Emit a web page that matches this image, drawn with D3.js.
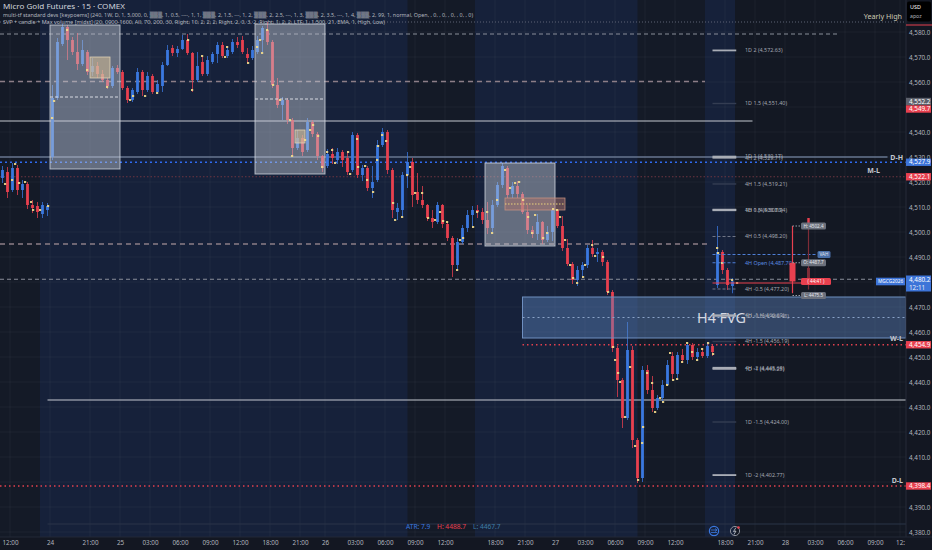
<!DOCTYPE html>
<html><head><meta charset="utf-8">
<script src="https://cdn.jsdelivr.net/npm/d3@7"></script>
<style>body{margin:0;background:#131722;overflow:hidden}svg{display:block}</style>
</head><body>
<svg id="c" width="932" height="550"></svg>
<script>
// ---------------- DATA ----------------
// 30-minute style candles [open, high, low, close]
const candles = [
[4521.6,4526.4,4519.6,4524.8],[4524.0,4526.0,4513.6,4516.0],[4516.8,4527.6,4516.0,4525.6],[4525.6,4526.8,4514.8,4516.8],
[4516.8,4520.8,4513.6,4519.2],[4519.2,4520.0,4509.2,4510.8],[4510.8,4512.8,4507.6,4509.6],[4510.4,4512.0,4505.6,4508.0],
[4507.2,4512.0,4505.6,4510.8],[4508.8,4511.6,4506.4,4510.4],[4530.0,4558.8,4528.8,4553.6],[4553.6,4577.6,4552.8,4576.0],
[4575.2,4583.2,4574.4,4582.0],[4582.0,4582.8,4568.8,4576.8],[4576.8,4578.0,4570.8,4572.0],[4572.0,4579.6,4564.8,4567.2],
[4567.2,4576.8,4566.4,4572.8],[4572.0,4572.8,4562.8,4564.0],[4564.0,4569.6,4562.4,4566.4],[4566.4,4568.0,4561.6,4563.2],
[4563.2,4564.8,4560.0,4560.8],[4560.8,4561.6,4557.2,4558.4],[4558.4,4566.4,4557.6,4565.6],[4565.6,4566.8,4563.2,4564.0],
[4564.0,4564.8,4556.8,4557.6],[4557.6,4558.4,4551.6,4552.8],[4552.8,4557.6,4552.0,4556.8],[4556.0,4565.6,4555.2,4564.0],
[4564.0,4564.8,4554.4,4556.8],[4556.8,4564.0,4556.0,4562.4],[4562.4,4563.2,4555.2,4556.0],[4556.0,4560.8,4555.2,4559.2],
[4558.4,4568.0,4556.0,4566.8],[4566.8,4574.8,4566.4,4572.8],[4573.6,4574.8,4570.4,4571.6],[4571.6,4574.4,4570.0,4573.2],
[4573.2,4578.8,4572.8,4576.8],[4576.8,4579.2,4570.8,4571.6],[4571.6,4572.0,4556.0,4560.8],[4560.8,4572.0,4560.0,4566.4],
[4568.0,4570.4,4562.4,4563.2],[4563.2,4570.4,4562.4,4568.8],[4568.0,4572.0,4567.2,4571.2],[4571.2,4576.0,4567.6,4574.8],
[4574.8,4576.0,4569.6,4570.4],[4570.4,4574.4,4569.6,4572.8],[4572.0,4577.2,4571.2,4576.0],[4576.0,4578.0,4573.6,4574.8],
[4576.8,4578.4,4571.2,4572.0],[4571.2,4573.6,4567.6,4569.6],[4569.6,4574.4,4568.8,4572.8],[4572.0,4578.4,4571.2,4576.8],
[4576.8,4582.4,4571.6,4581.6],[4580.8,4584.0,4574.8,4576.0],[4576.0,4576.8,4557.6,4558.8],[4558.8,4561.6,4549.6,4550.8],
[4550.8,4554.0,4544.8,4552.8],[4552.8,4553.6,4543.2,4544.8],[4544.8,4545.6,4530.4,4533.6],[4533.6,4540.8,4532.8,4537.6],
[4537.6,4538.8,4530.4,4532.0],[4532.8,4545.6,4532.0,4544.0],[4544.0,4544.8,4538.0,4539.2],[4539.2,4540.0,4528.8,4530.4],
[4530.4,4530.8,4524.0,4525.6],[4526.4,4533.2,4525.6,4531.2],[4531.2,4533.6,4527.2,4529.6],[4528.8,4533.6,4527.2,4532.0],
[4532.0,4532.8,4526.0,4528.8],[4529.6,4532.4,4522.8,4524.0],[4524.8,4540.0,4524.0,4538.8],[4538.8,4539.6,4521.6,4522.8],
[4522.8,4526.8,4520.4,4525.6],[4525.6,4526.4,4516.4,4517.6],[4517.6,4526.4,4513.6,4520.0],[4520.8,4536.8,4520.0,4534.8],
[4534.8,4541.6,4534.0,4540.0],[4540.0,4540.8,4523.2,4524.8],[4524.8,4525.6,4505.6,4508.8],[4508.0,4511.6,4504.8,4509.6],
[4508.8,4524.0,4506.0,4522.8],[4522.8,4532.0,4517.6,4528.0],[4528.0,4529.6,4510.0,4514.8],[4516.0,4523.6,4511.2,4512.8],
[4512.8,4518.4,4509.6,4510.8],[4510.8,4511.2,4504.4,4505.6],[4505.6,4508.8,4501.6,4504.0],[4504.0,4512.0,4503.2,4510.8],
[4510.8,4511.2,4501.6,4503.2],[4503.2,4504.0,4496.4,4497.6],[4497.6,4498.4,4482.0,4486.8],[4486.8,4497.6,4484.8,4496.0],
[4496.0,4502.8,4495.2,4501.6],[4501.6,4508.8,4500.0,4506.8],[4506.8,4510.4,4501.6,4508.8],[4508.8,4510.8,4505.6,4508.0],
[4508.0,4509.6,4503.2,4504.8],[4504.8,4512.0,4499.2,4501.6],[4501.6,4512.8,4499.2,4510.8],[4510.8,4520.0,4510.0,4518.8],
[4518.8,4527.6,4517.6,4526.4],[4525.6,4526.4,4513.6,4514.8],[4515.2,4520.0,4513.6,4518.4],[4518.4,4520.4,4513.6,4515.2],
[4515.2,4516.0,4507.2,4508.0],[4508.0,4510.8,4499.2,4500.8],[4500.8,4502.4,4497.6,4499.2],[4499.2,4507.2,4496.8,4504.0],
[4504.0,4504.4,4495.2,4496.8],[4496.8,4502.4,4496.0,4500.0],[4500.0,4509.6,4496.4,4508.8],[4508.8,4509.2,4501.6,4502.4],
[4502.4,4506.4,4492.4,4493.6],[4493.6,4497.2,4486.4,4487.2],[4487.2,4488.0,4479.2,4480.8],[4480.8,4486.4,4478.4,4484.8],
[4484.8,4488.0,4481.6,4486.8],[4486.8,4494.8,4485.6,4493.6],[4493.6,4496.8,4490.0,4491.2],[4491.2,4493.6,4488.0,4492.0],
[4492.0,4492.8,4486.4,4488.0],[4488.0,4488.8,4474.8,4476.0],[4476.0,4476.8,4452.0,4453.6],[4453.6,4454.4,4434.0,4440.8],
[4440.8,4441.6,4421.6,4425.6],[4425.6,4464.0,4424.8,4452.8],[4452.8,4454.4,4413.6,4416.8],[4416.8,4417.6,4399.6,4401.6],
[4401.6,4446.4,4400.0,4444.8],[4444.8,4446.8,4435.2,4436.8],[4436.8,4442.4,4428.0,4429.6],[4429.6,4434.8,4428.8,4433.6],
[4433.6,4440.8,4432.0,4438.8],[4438.8,4448.8,4438.4,4446.8],[4450.4,4452.0,4440.8,4443.2],[4443.2,4452.0,4440.8,4450.8],
[4450.8,4453.2,4447.6,4448.8],[4448.8,4456.0,4447.2,4454.8],[4454.8,4455.6,4448.8,4450.0],[4450.0,4453.6,4448.4,4452.0],
[4452.0,4453.6,4449.6,4450.4],[4450.4,4456.0,4449.6,4454.4],[4454.4,4455.2,4450.4,4452.0],[4478.8,4502.4,4477.6,4492.0],
[4492.0,4492.8,4483.2,4484.8],[4484.8,4485.6,4476.8,4478.8],[4478.4,4481.6,4475.5,4480.2]
];
// indicator markers [bar, price]
const dots = [
[2,4519.2],[4.8,4520.8],[6,4527.2],[7.6,4519.6],[10,4520],[12.4,4512],[13.2,4508.8],[16,4508.8],[19.2,4510.4],
[20.8,4545.6],[21.6,4552.4],[26.8,4580.8],[34.8,4564.8],[42.8,4558],[52,4552.8],[53.2,4554.4],[58,4554.4],[62.8,4555.6],
[75.2,4576.8],[76.8,4556.8],[80.8,4570.4],[90,4570],[90.8,4574],[99.2,4567.6],[102.8,4574],[104,4576.8],[104.8,4571.6],
[106.8,4580.8],[109.2,4558.8],[112,4552.8],[116,4544.8],[116.8,4530.4],[122,4536.8],[124,4540.8],[125.2,4542.8],
[127.2,4538.4],[128.8,4526],[130.8,4532],[132.8,4532.8],[134,4527.6],[139.2,4532],[140,4523.2],[142.8,4537.2],[143.2,4526],
[146,4526.4],[146.8,4520.8],[149.2,4516],[150.8,4528.8],[151.2,4534.4],[152.8,4538.8],[154.4,4536.4],[157.2,4511.6],
[158,4504.8],[160.8,4506],[162.8,4522.8],[164,4526],[166,4515.6],[168.8,4515.6],[171.2,4505.6],[174,4504.8],[176,4508],
[177.2,4504.4],[178.8,4504],[182.8,4484.8],[184,4496.8],[185.2,4497.6],[189.2,4502],[190.8,4508],[194.8,4508],[196.8,4499.6],
[198.8,4512.8],[202,4524.8],[204,4517.6],[206,4519.6],[207.6,4520],[209.2,4512.8],[211.2,4506],[212.8,4499.6],[214,4506.8],
[217.2,4497.6],[218.8,4499.6],[221.2,4509.2],[222.8,4508.8],[224,4506],[226,4496.8],[228,4486.8],[229.2,4481.6],[230.8,4479.6],
[233.2,4482],[234,4486.8],[236.8,4494.8],[238,4490.4],[241.2,4490],[243.2,4476],[245.2,4454],[246,4448.8],[247.2,4443.6],
[248,4440],[250,4426],[252,4446],[254,4414.4],[255.2,4400.8],[256.8,4415.6],[257.2,4422],[258.8,4443.6],[260.8,4439.6],
[262,4428],[264,4433.6],[265.2,4432],[266.8,4438.8],[268,4451.6],[269.2,4440.8],[270.8,4441.2],[272.8,4448],[274.8,4455.6],
[276.8,4452],[278.8,4448.8],[280.8,4453.2],[283.2,4455.6],[285.2,4451.2],[286.8,4493.6],[287.2,4491.6],[288.8,4487.6],
[292.8,4480.8],[294.8,4479.6]
];
const timeTicks = [4,20,36,48,60,72,84,96,108,120,130,142,154,166,178,198,210,222,234,246,258,270,290,302,314,326,338,350,360];
const timeLabels = ["12:00","24","21:00","25","03:00","06:00","09:00","12:00","18:00","21:00","26","03:00","06:00","09:00","12:00",
  "18:00","21:00","27","03:00","06:00","09:00","12:00","18:00","21:00","28","03:00","06:00","09:00","12:"];
const priceTicks = [4380,4390,4400,4410,4420,4430,4440,4450,4460,4470,4480,4490,4500,4510,4520,4530,4540,4550,4560,4570,4580];
// session shading [startBar, endBar]
const sessions = [[16,163],[190,255],[282,294]];
// key horizontal levels [price, startBar, endBar, kind]
const hLevels = [
  [4584.0,0,362.4,"dotGrey"],[4579.2,0,336,"dashGrey"],[4560.2,0,282,"dashPink"],[4544.4,0,301,"solidWhite"],
  [4530.0,0,355,"solidBlueGrey"],[4527.9,0,362.4,"dotBlue"],[4522.1,0,362.4,"dotDarkRed"],[4495.2,0,284,"dashPink"],
  [4481.1,0,350,"dashGrey"],[4454.9,209,362.4,"dotRed"],[4432.8,19,362.4,"solidWhite"],[4398.4,0,362.4,"dotRed"],
  [4383.2,19,362.4,"solidDim"]
];
const levelTags = [["D-H",4530.0],["M-L",4522.1],["W-L",4454.9],["D-L",4398.4]];
// volume-profile boxes [startBar, endBar, top, bottom]
const boxes = [[20,48,4582.8,4525.2],[102,130,4583.2,4523.2],[194,222,4527.6,4494.4]];
const boxInner = [[36,44,4570.0,4561.6],[118,122,4540.8,4535.6]];
const boxBand = [202,226,4513.6,4508.8];
const boxDash = [[20,48,4554.0],[102,130,4553.2]];
// FVG zone
const fvg = [209,362.4,4474.0,4457.6];
// std-dev levels
const levelNames = ["1D 2","1D 1.5","1D 1","4H 2","4H 1.5","1D 0.5","4H 1","4H 0.5","4H Open","4H -0.5","1D -0.5","4H -1","4H -1.5","1D -1","4H -2","1D -1.5","1D -2"];
const levelValues = [4572.63,4551.40,4530.17,4529.71,4519.21,4508.94,4508.70,4498.20,4487.70,4477.20,4466.48,4466.69,4456.19,4445.25,4445.69,4424.00,4402.77];
// higher timeframe projection
const htf = {o:4487.7,h:4502.4,l:4475.5,c:4480.2};
const htfPrev = {o:4485.6,h:4505.6,l:4477.0,c:4478.8};
const projLabels = [["H: 4502.4",4502.4,"grey"],["VAH",4491.0,"blue"],["O: 4487.7",4487.7,"grey"],["( 44:41 )",4480.2,"red"],["L: 4475.5",4474.6,"grey"]];
// price-axis markers
const axisMarks = [["4,552.2",4552.2,"grey"],["4,549.7",4549.2,"red"],["4,527.9",4527.9,"blue"],["4,522.1",4522.1,"red"],["4,454.9",4454.9,"red"],["4,398.4",4398.4,"red"]];
const lastPrice = 4480.2, lastTime = "12:11", symbol = "MGCG2026";
const atrTexts = [["ATR: 7.9","atr"],["H: 4488.7","hi"],["L: 4467.7","lo"]];
const legend = [
 "Micro Gold Futures · 15 · COMEX",
 "multi-tf standard devs [keypoems] (240, 1W, D, 1, 5,000, 0, ▒▒▒, 1, 0.5, ----, 1, 1, ▒▒▒, 2, 1.5, ---, 1, 2, ▒▒▒, 2, 2.5, ---, 1, 3, ▒▒▒, 2, 3.5, ---, 1, 4, ▒▒▒, 2, 99, 1, normal, Open, , 0, , 0, , 0, , 0, , 0)",
 "SVP + candle + Max volume [midst] (20, 0900-1600, All, 70, 200, 30, Right, 10, 2, 2, 2, Right, 2, 0, 3, 2, Right, 1, 2, 2, LTF, 1, 1,500, 21, EMA, 1, High, Low)"
];

// ---------------- RENDER ----------------
const W = 932, H = 550, AX = 906, BOT = 537;
const FONT = "'Noto Sans', 'DejaVu Sans', sans-serif";
const x = d3.scaleLinear().domain([0, 372.8]).range([0, 932]);
const y = d3.scaleLinear().domain([4380, 4580]).range([532, 32]);
const svg = d3.select("#c").style("font-family", FONT);
const BLUE = "#3a78e0", RED = "#e8404f";

svg.append("rect").attr("width", W).attr("height", H).attr("fill", "#141a27");
svg.append("rect").attr("x", x(294)).attr("width", AX - x(294)).attr("height", BOT).attr("fill", "#131823");
svg.selectAll(".sess").data(sessions).join("rect")
  .attr("x", d => x(d[0])).attr("width", d => x(d[1]) - x(d[0]))
  .attr("y", 0).attr("height", BOT).attr("fill", "#16213a");

// grid
const g = svg.append("g");
g.selectAll(".vg").data(timeTicks).join("line")
  .attr("x1", d => x(d)).attr("x2", d => x(d)).attr("y1", 0).attr("y2", BOT)
  .attr("stroke", "rgba(255,255,255,0.045)");
g.selectAll(".hg").data(priceTicks).join("line")
  .attr("x1", 0).attr("x2", AX).attr("y1", d => y(d)).attr("y2", d => y(d))
  .attr("stroke", "rgba(255,255,255,0.04)");

// horizontal levels
const lvlStyle = {
  dotGrey:{c:"#5c6274",w:1,d:"1,2"}, dashGrey:{c:"#8a8f9a",w:1,d:"4,3"}, dashPink:{c:"#8c7e87",w:1.5,d:"5,4"},
  solidWhite:{c:"#c3c7cf",w:1.2,d:null}, solidBlueGrey:{c:"#66758f",w:1.6,d:null}, dotBlue:{c:"#2f6af0",w:1.6,d:"2,3"},
  dotDarkRed:{c:"#6e3540",w:1.2,d:"1.5,2"}, dotRed:{c:"#e2404e",w:1.5,d:"1.5,3"}, solidDim:{c:"#2b3549",w:1,d:null}
};
svg.selectAll(".lvl").data(hLevels).join("line")
  .attr("x1", d => x(d[1])).attr("x2", d => x(d[2])).attr("y1", d => y(d[0])).attr("y2", d => y(d[0]))
  .attr("stroke", d => lvlStyle[d[3]].c).attr("stroke-width", d => lvlStyle[d[3]].w)
  .attr("stroke-dasharray", d => lvlStyle[d[3]].d);

// candles
const cg = svg.append("g");
candles.forEach((c, i) => {
  const cx = x(2 * i + 1), up = c[3] >= c[0], col = up ? BLUE : RED;
  cg.append("line").attr("x1", cx).attr("x2", cx).attr("y1", y(c[1])).attr("y2", y(c[2]))
    .attr("stroke", col).attr("stroke-width", 0.9).attr("opacity", 0.85);
  const t = y(Math.max(c[0], c[3])), b = y(Math.min(c[0], c[3]));
  cg.append("rect").attr("x", cx - 1.4).attr("width", 2.8).attr("y", t).attr("height", Math.max(1, b - t)).attr("fill", col);
});

// boxes over candles
svg.selectAll(".box").data(boxes).join("rect")
  .attr("x", d => x(d[0])).attr("width", d => x(d[1]) - x(d[0]))
  .attr("y", d => y(d[2])).attr("height", d => y(d[3]) - y(d[2]))
  .attr("fill", "rgba(196,202,212,0.45)").attr("stroke", "rgba(215,220,228,0.75)").attr("stroke-width", 1);
svg.selectAll(".bin").data(boxInner).join("rect")
  .attr("x", d => x(d[0])).attr("width", d => x(d[1]) - x(d[0]))
  .attr("y", d => y(d[2])).attr("height", d => y(d[3]) - y(d[2]))
  .attr("fill", "rgba(214,190,150,0.55)").attr("stroke", "rgba(230,215,185,0.9)").attr("stroke-width", 0.8);
svg.append("rect").attr("x", x(boxBand[0])).attr("width", x(boxBand[1]) - x(boxBand[0]))
  .attr("y", y(boxBand[2])).attr("height", y(boxBand[3]) - y(boxBand[2]))
  .attr("fill", "rgba(175,115,105,0.5)").attr("stroke", "rgba(205,150,130,0.9)").attr("stroke-width", 0.8);
svg.append("line").attr("x1", x(boxBand[0])).attr("x2", x(boxBand[1]))
  .attr("y1", y((boxBand[2] + boxBand[3]) / 2)).attr("y2", y((boxBand[2] + boxBand[3]) / 2))
  .attr("stroke", "#e8d27c").attr("stroke-dasharray", "1.5,1.5");
svg.selectAll(".bdash").data(boxDash).join("line")
  .attr("x1", d => x(d[0])).attr("x2", d => x(d[1])).attr("y1", d => y(d[2])).attr("y2", d => y(d[2]))
  .attr("stroke", "#d6dae2").attr("stroke-dasharray", "3,2");

// FVG
svg.append("rect").attr("x", x(fvg[0])).attr("width", x(fvg[1]) - x(fvg[0]))
  .attr("y", y(fvg[2])).attr("height", y(fvg[3]) - y(fvg[2]))
  .attr("fill", "rgba(95,135,195,0.42)").attr("stroke", "#6f8fc0").attr("stroke-width", 1);
svg.append("line").attr("x1", x(fvg[0])).attr("x2", x(fvg[1]))
  .attr("y1", y((fvg[2] + fvg[3]) / 2)).attr("y2", y((fvg[2] + fvg[3]) / 2))
  .attr("stroke", "#8aa3c8").attr("stroke-dasharray", "2,3");
svg.append("text").attr("x", 697).attr("y", y((fvg[2] + fvg[3]) / 2) + 5.5)
  .attr("font-size", 15).attr("fill", "#d5d9e2").attr("textLength", 49).attr("lengthAdjust", "spacingAndGlyphs")
  .text("H4 FVG");

// dots
svg.selectAll(".dot").data(dots).join("rect")
  .attr("x", d => x(d[0]) - 1).attr("y", d => y(d[1]) - 0.9).attr("width", 2.2).attr("height", 1.8)
  .attr("fill", "#f3dc8c");

// level tags
levelTags.forEach(([t, v]) => {
  const onLine = t === "D-H";
  svg.append("text").attr("x", 903).attr("y", y(v) + (onLine ? 2.5 : -3.5)).attr("text-anchor", "end")
    .attr("font-size", 7).attr("font-weight", "bold").attr("fill", "#c3c7cf").text(t)
    .attr("dx", t === "M-L" ? -23 : 0);
});

// std-dev level segments & labels
levelNames.forEach((n, i) => {
  const v = levelValues[i];
  let col = "#a9adb6", w = 1.8, dash = null;
  if (n.includes("1.5")) { col = "#343d52"; w = 1.4; }
  else if (n.includes("Open")) { col = "#4f7fd6"; w = 1; dash = "3,2"; }
  else if (n.startsWith("4H") && n.includes("0.5")) { col = "#707686"; w = 1; dash = "3,2"; }
  svg.append("line").attr("x1", x(285)).attr("x2", x(294.5)).attr("y1", y(v)).attr("y2", y(v))
    .attr("stroke", col).attr("stroke-width", w).attr("stroke-dasharray", dash);
  svg.append("text").attr("x", x(298)).attr("y", y(v) + 1.9).attr("font-size", 5.4)
    .attr("fill", n.includes("Open") ? "#5b8be0" : "#a3a7b1")
    .text(n + " (" + d3.format(",.2f")(v) + ")");
});

// VAH / current lines in projection
svg.append("line").attr("x1", x(285)).attr("x2", x(327)).attr("y1", y(4491.0)).attr("y2", y(4491.0))
  .attr("stroke", "#4f7fd6").attr("stroke-dasharray", "3,2");
svg.append("line").attr("x1", x(285)).attr("x2", x(320.4)).attr("y1", y(lastPrice) + 1.5).attr("y2", y(lastPrice) + 1.5)
  .attr("stroke", RED).attr("stroke-width", 1);

// HTF projection candles
function drawHtf(c, bar, col, bw) {
  const cx = x(bar);
  svg.append("line").attr("x1", cx).attr("x2", cx).attr("y1", y(c.h)).attr("y2", y(c.l)).attr("stroke", col).attr("stroke-width", 1.2);
  const t = y(Math.max(c.o, c.c)), b = y(Math.min(c.o, c.c));
  svg.append("rect").attr("x", cx - bw / 2).attr("width", bw).attr("y", t).attr("height", b - t).attr("fill", col);
}
drawHtf(htfPrev, 323.4, "#7e2c37", 3);
svg.append("rect").attr("x", x(323.4) - 1.2).attr("width", 2.4).attr("y", y(htfPrev.h)).attr("height", 6).attr("fill", RED);
drawHtf(htf, 317, RED, 6);
const projCol = {grey:{f:"#6b707c",t:"#e3e6ec"}, blue:{f:"#4a6fa8",t:"#e3e6ec"}, red:{f:RED,t:"#ffffff"}};
projLabels.forEach(([t, v, k]) => {
  const bx = k === "blue" ? x(327) : x(320.4), bw = k === "red" ? 30 : (k === "blue" ? 13 : 25);
  if (k === "grey") svg.append("line").attr("x1", x(317)).attr("x2", bx).attr("y1", y(v)).attr("y2", y(v))
    .attr("stroke", "#9a9ea8").attr("stroke-dasharray", "1.5,1.5");
  svg.append("rect").attr("x", bx).attr("y", y(v) - 3.6).attr("width", bw).attr("height", 7.2).attr("rx", 1.5)
    .attr("fill", projCol[k].f);
  svg.append("text").attr("x", bx + bw / 2).attr("y", y(v) + 1.7).attr("text-anchor", "middle")
    .attr("font-size", 4.6).attr("fill", projCol[k].t).text(t);
});

// symbol tag
svg.append("rect").attr("x", 876).attr("y", y(lastPrice) - 3.8).attr("width", 29).attr("height", 7.6).attr("fill", "#3d74d8");
svg.append("text").attr("x", 890.5).attr("y", y(lastPrice) + 1.7).attr("text-anchor", "middle")
  .attr("font-size", 4.8).attr("fill", "#ffffff").text(symbol);

// legend
const lw = [122, 470, 382], ls = [6.4, 6.0, 6.0], lc = ["#d1d4dc", "#b2b5be", "#b2b5be"];
legend.forEach((t, i) => {
  svg.append("text").attr("x", 3).attr("y", [8.9, 16.9, 24.2][i]).attr("font-size", ls[i]).attr("fill", lc[i])
    .attr("textLength", lw[i]).attr("lengthAdjust", "spacingAndGlyphs").text(t);
});

// yearly high
svg.append("text").attr("x", 902).attr("y", 18.5).attr("text-anchor", "end").attr("font-size", 7.2)
  .attr("fill", "#cdcab4").text("Yearly High");

// ATR info
const atrCol = {atr:"#3a78e0", hi:"#e8404f", lo:"#3f7ea8"};
const atrX = [406, 437, 473];
atrTexts.forEach(([t, k], i) => {
  svg.append("text").attr("x", atrX[i]).attr("y", 529).attr("font-size", 6.6).attr("fill", atrCol[k]).text(t);
});

// bottom icons
svg.append("circle").attr("cx", 714).attr("cy", 531).attr("r", 4.6).attr("fill", "none").attr("stroke", "#3a78e0").attr("stroke-width", 1.2);
svg.append("path").attr("d", "M711,530 L717,530 M715,528.5 L717,530 L715,531.5 M711,532.5 L717,532.5")
  .attr("stroke", "#3a78e0").attr("fill", "none").attr("stroke-width", 0.8);
svg.append("circle").attr("cx", 735).attr("cy", 531).attr("r", 4.6).attr("fill", "none").attr("stroke", "#8c8f99").attr("stroke-width", 1);
svg.append("path").attr("d", "M736,527.5 L733.5,531.5 L736,531 L734,534.5").attr("stroke", "#c8cbd2").attr("fill", "none").attr("stroke-width", 0.8);
svg.append("circle").attr("cx", 738.5).attr("cy", 527.5).attr("r", 1.3).attr("fill", RED);

// price axis
svg.append("rect").attr("x", AX).attr("y", 0).attr("width", W - AX).attr("height", H).attr("fill", "#131722");
svg.append("line").attr("x1", AX).attr("x2", AX).attr("y1", 0).attr("y2", H).attr("stroke", "#262b38");
const markPrices = axisMarks.map(d => d[1]).concat([lastPrice]);
const visibleTicks = priceTicks.filter(p => markPrices.every(m => Math.abs(y(p) - y(m)) > 4.6));
const yAx = svg.append("g").attr("transform", `translate(${AX},0)`)
  .call(d3.axisRight(y).tickValues(visibleTicks).tickSize(0).tickPadding(3).tickFormat(d3.format(",.1f")));
yAx.select(".domain").remove();
yAx.selectAll("text").attr("font-size", 6.3).attr("fill", "#b2b5be").attr("font-family", FONT);

const markCol = {grey:"#5d616c", red:"#e8404f", blue:"#3d74d8"};
axisMarks.forEach(([t, v, k]) => {
  svg.append("rect").attr("x", AX).attr("y", y(v) - 3.7).attr("width", W - AX - 1).attr("height", 7.4).attr("fill", markCol[k]);
  svg.append("text").attr("x", AX + 3).attr("y", y(v) + 2.2).attr("font-size", 6.3).attr("fill", "#ffffff").text(t);
});
svg.append("rect").attr("x", AX).attr("y", y(lastPrice) - 6).attr("width", W - AX - 1).attr("height", 16).attr("fill", "#3d74d8");
svg.append("text").attr("x", AX + 3).attr("y", y(lastPrice) + 0.3).attr("font-size", 6.3).attr("fill", "#ffffff").text(d3.format(",.1f")(lastPrice));
svg.append("text").attr("x", AX + 3).attr("y", y(lastPrice) + 8).attr("font-size", 6.3).attr("fill", "#e8ecf5").text(lastTime);
svg.append("line").attr("x1", AX).attr("x2", W).attr("y1", 25).attr("y2", 25).attr("stroke", RED).attr("stroke-width", 1);
svg.append("rect").attr("x", AX + 1).attr("y", 1.5).attr("width", 24).attr("height", 20).attr("rx", 2).attr("fill", "#000000");
svg.append("text").attr("x", AX + 4).attr("y", 9).attr("font-size", 5.4).attr("fill", "#ffffff").text("USD");
svg.append("text").attr("x", AX + 4).attr("y", 17.5).attr("font-size", 5.2).attr("fill", "#b2b5be").text("apoz");

// time axis
svg.append("rect").attr("x", 0).attr("y", BOT).attr("width", W).attr("height", H - BOT).attr("fill", "#131722");
svg.append("line").attr("x1", 0).attr("x2", W).attr("y1", BOT).attr("y2", BOT).attr("stroke", "#232836");
const xAx = svg.append("g").attr("transform", `translate(0,${BOT})`)
  .call(d3.axisBottom(x).tickValues(timeTicks).tickSize(0).tickPadding(4).tickFormat((d, i) => timeLabels[i]));
xAx.select(".domain").remove();
xAx.selectAll("text").attr("font-size", 6.3).attr("fill", "#b2b5be").attr("font-family", FONT);
</script>
</body></html>
